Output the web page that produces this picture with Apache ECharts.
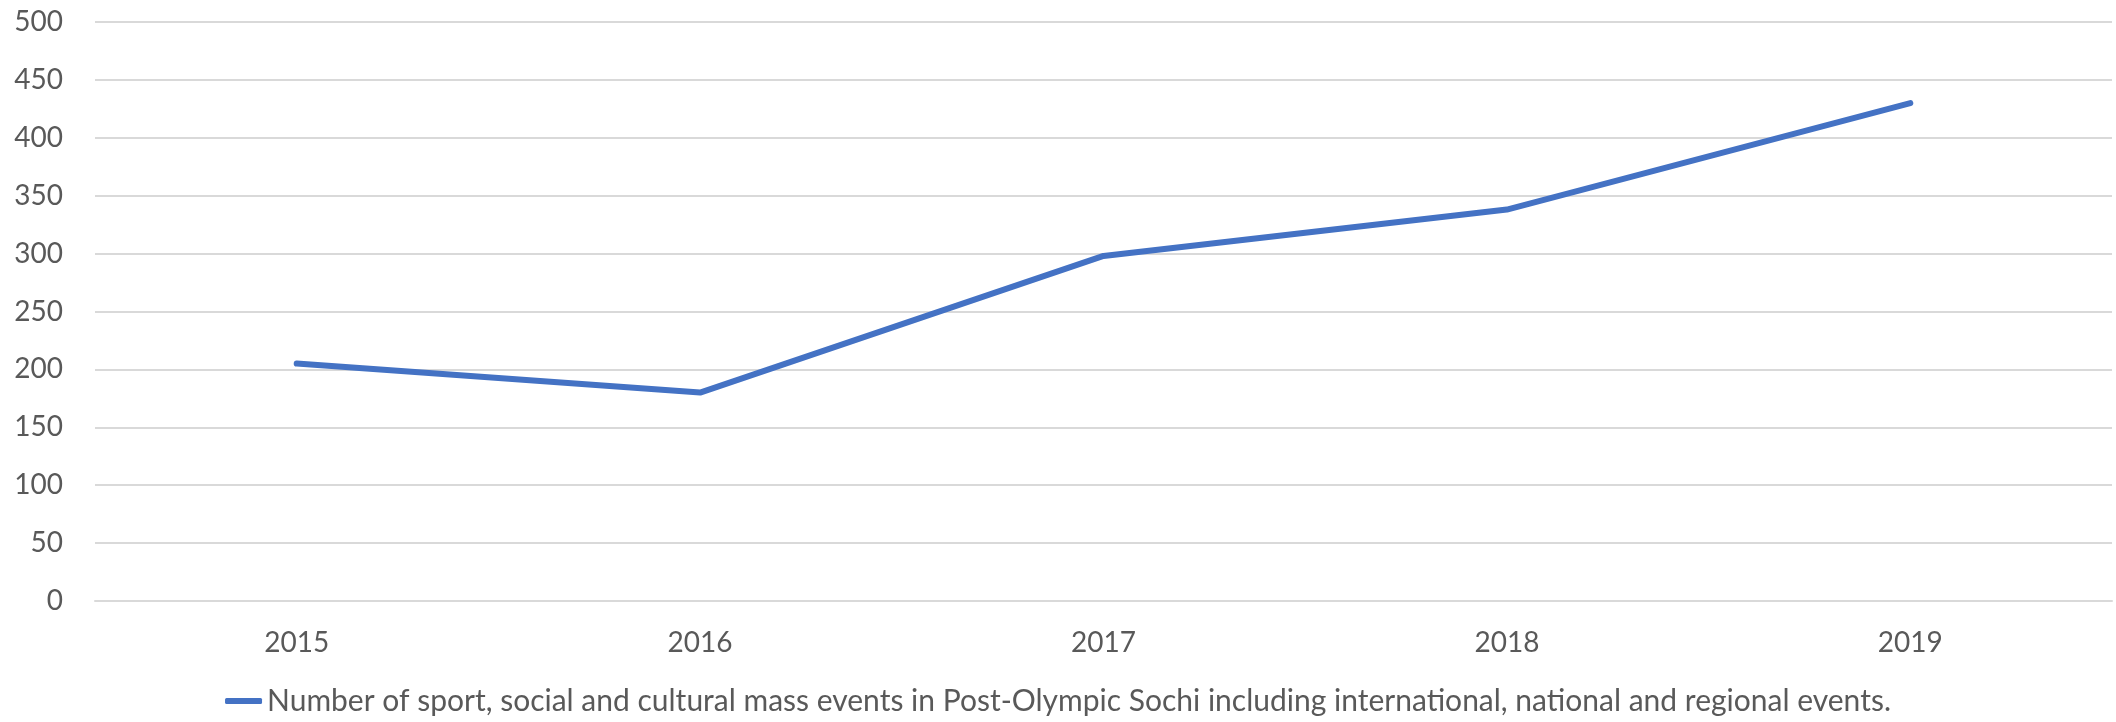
<!DOCTYPE html>
<html>
<head>
<meta charset="utf-8">
<script src="https://cdn.jsdelivr.net/npm/echarts@6/dist/echarts.min.js"></script>
<style>
  html, body { margin: 0; padding: 0; background: #fff; }
  #main { width: 2116px; height: 722px; }
</style>
</head>
<body>
<div id="main"></div>
<script>
// data
const years = ['2015', '2016', '2017', '2018', '2019']
const events = [205, 180, 298, 338, 430]
const seriesName = 'Number of sport, social and cultural mass events in Post-Olympic Sochi including international, national and regional events.'

const textColor = '#595959'
const fontFamily = 'Lato, "Open Sans", sans-serif'

const chart = echarts.init(document.getElementById('main'))
chart.setOption({
  animation: false,
  grid: { left: 95, right: 4, top: 22, bottom: 121, containLabel: false },
  xAxis: {
    type: 'category',
    data: years,
    boundaryGap: true,
    axisLine: { show: true, lineStyle: { color: '#d9d9d9', width: 2 } },
    axisTick: { show: false },
    axisLabel: { color: textColor, fontSize: 28, fontFamily: fontFamily, margin: 28 }
  },
  yAxis: {
    type: 'value',
    min: 0,
    max: 500,
    interval: 50,
    axisLine: { show: false },
    axisTick: { show: false },
    splitLine: { lineStyle: { color: '#d9d9d9', width: 2 } },
    axisLabel: { color: textColor, fontSize: 28, fontFamily: fontFamily, margin: 32 }
  },
  legend: {
    bottom: 1,
    left: 'center',
    icon: 'roundRect',
    itemWidth: 37,
    itemHeight: 6,
    textStyle: { color: textColor, fontSize: 30, fontFamily: fontFamily }
  },
  series: [{
    name: seriesName,
    type: 'line',
    data: events,
    symbol: 'none',
    lineStyle: { color: '#4472C4', width: 6, cap: 'round', join: 'round' },
    itemStyle: { color: '#4472C4' }
  }]
})
</script>
</body>
</html>
